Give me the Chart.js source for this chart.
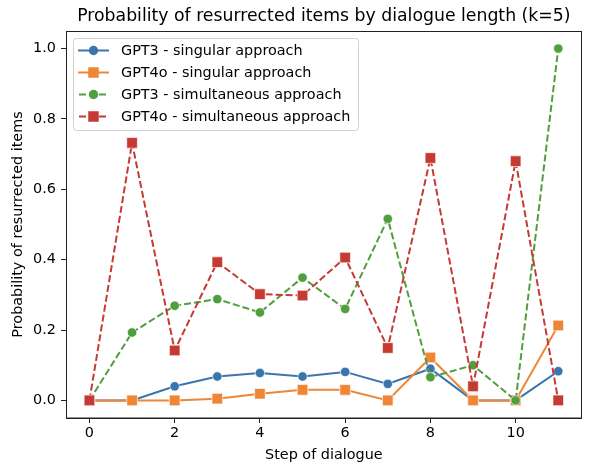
<!DOCTYPE html>
<html>
<head>
<meta charset="utf-8">
<script src="https://cdn.jsdelivr.net/npm/chart.js@4"></script>
<style>
    html, body { margin: 0; padding: 0; background: #fff; }
    #wrap { width: 590px; height: 466px; }
</style>
</head>
<body>
<div id="wrap"><canvas id="resChart" width="590" height="466"></canvas></div>
<script>
// Steps of dialogue (x axis)
const steps = [0, 1, 2, 3, 4, 5, 6, 7, 8, 9, 10, 11];

// Series values
const gpt3Singular = [0, 0, 0.04, 0.068, 0.078, 0.068, 0.081, 0.047, 0.09, 0, 0, 0.083];
const gpt4oSingular = [0, 0, 0, 0.005, 0.019, 0.03, 0.03, 0, 0.122, 0, 0, 0.213];
const gpt3Simultaneous = [0, 0.193, 0.269, 0.288, 0.25, 0.349, 0.26, 0.516, 0.066, 0.1, 0, 1.0];
const gpt4oSimultaneous = [0, 0.732, 0.142, 0.393, 0.302, 0.298, 0.406, 0.149, 0.689, 0.04, 0.68, 0];

const seriesLabels = [
    'GPT3 - singular approach',
    'GPT4o - singular approach',
    'GPT3 - simultaneous approach',
    'GPT4o - simultaneous approach'
];

// Tick labels
const xTicks = [0, 2, 4, 6, 8, 10];
const yTicks = [0.0, 0.2, 0.4, 0.6, 0.8, 1.0];

const FONT = '"DejaVu Sans", sans-serif';
const colors = ['#3b75af', '#ef8636', '#519e3e', '#c53a32'];

function toPoints(values) {
    return steps.map((s, i) => ({ x: s, y: values[i] }));
}

function makeDataset(idx, values, dashed, style) {
    return {
        label: seriesLabels[idx],
        data: toPoints(values),
        borderColor: colors[idx],
        backgroundColor: colors[idx],
        borderWidth: 2,
        borderDash: dashed ? [7, 3] : [],
        pointStyle: style,
        pointRadius: style === 'rect' ? 7.5 : 4.7,
        pointBorderColor: 'rgba(255,255,255,0.8)',
        pointBorderWidth: 0.8,
        pointBackgroundColor: colors[idx],
        pointHoverRadius: style === 'rect' ? 7.5 : 4.7,
        tension: 0,
        fill: false,
        order: 4 - idx
    };
}

const datasets = [
    makeDataset(0, gpt3Singular, false, 'circle'),
    makeDataset(1, gpt4oSingular, false, 'rect'),
    makeDataset(2, gpt3Simultaneous, true, 'circle'),
    makeDataset(3, gpt4oSimultaneous, true, 'rect')
];

// Draws the frame, title, axis labels and matplotlib-like legend
const decorations = {
    id: 'decorations',
    afterDraw(chart) {
        const ctx = chart.ctx;
        const a = chart.chartArea;
        ctx.save();

        // full box around the plot
        ctx.strokeStyle = '#222';
        ctx.lineWidth = 1;
        ctx.strokeRect(Math.round(a.left) + 0.5, Math.round(a.top) + 0.5,
            Math.round(a.right - a.left) - 1, Math.round(a.bottom - a.top) - 0.5);

        // title
        ctx.fillStyle = '#000';
        ctx.font = '17.3px ' + FONT;
        ctx.textAlign = 'center';
        ctx.textBaseline = 'middle';
        ctx.fillText('Probability of resurrected items by dialogue length (k=5)', (a.left + a.right) / 2, 16.5);

        // axis labels
        ctx.font = '14.4px ' + FONT;
        ctx.fillText('Step of dialogue', (a.left + a.right) / 2, 455.5);
        ctx.save();
        ctx.translate(18.5, (a.top + a.bottom) / 2);
        ctx.rotate(-Math.PI / 2);
        ctx.fillText('Probability of resurrected items', 0, 0);
        ctx.restore();

        // legend
        const lx = 73.5, ly = 38.5, lw = 285, lh = 92;
        ctx.fillStyle = 'rgba(255,255,255,0.8)';
        ctx.strokeStyle = '#d0d0d0';
        ctx.lineWidth = 1;
        ctx.beginPath();
        ctx.roundRect(lx, ly, lw, lh, 3);
        ctx.fill();
        ctx.stroke();

        const rowY = [50.5, 72.5, 94.5, 116.5];
        chart.data.datasets.forEach((ds, i) => {
            const y = rowY[i];
            ctx.strokeStyle = ds.borderColor;
            ctx.lineWidth = 2;
            ctx.setLineDash(ds.borderDash.length ? [7, 3] : []);
            ctx.beginPath();
            if (ds.borderDash.length) {
                ctx.moveTo(79, y);
                ctx.lineTo(109, y);
            } else {
                ctx.moveTo(78, y);
                ctx.lineTo(109, y);
            }
            ctx.stroke();
            ctx.setLineDash([]);
            ctx.fillStyle = ds.borderColor;
            if (ds.pointStyle === 'rect') {
                ctx.fillRect(88.25, y - 5.25, 10.5, 10.5);
            } else {
                ctx.beginPath();
                ctx.arc(93.5, y, 4.7, 0, Math.PI * 2);
                ctx.fill();
            }
            ctx.fillStyle = '#000';
            ctx.font = '14.4px ' + FONT;
            ctx.textAlign = 'left';
            ctx.textBaseline = 'middle';
            ctx.fillText(ds.label, 121, y + 0.5);
        });

        ctx.restore();
    }
};

const ctx = document.getElementById('resChart').getContext('2d');
new Chart(ctx, {
    type: 'line',
    data: { datasets: datasets },
    options: {
        responsive: false,
        animation: false,
        devicePixelRatio: 1,
        layout: { padding: { top: 31, right: 4, left: 0, bottom: 0 } },
        scales: {
            x: {
                type: 'linear',
                min: -0.55,
                max: 11.55,
                afterBuildTicks: (scale) => { scale.ticks = xTicks.map(v => ({ value: v })); },
                afterFit: (scale) => { scale.height = 48; },
                grid: { drawOnChartArea: false, drawTicks: true, tickLength: 5, tickColor: '#222', tickWidth: 1 },
                border: { display: true, color: '#222', width: 1 },
                ticks: {
                    color: '#000',
                    font: { family: FONT, size: 14.4 },
                    padding: 2,
                    maxRotation: 0,
                    callback: (v) => String(v)
                }
            },
            y: {
                type: 'linear',
                min: -0.05,
                max: 1.05,
                afterBuildTicks: (scale) => { scale.ticks = yTicks.map(v => ({ value: v })); },
                afterFit: (scale) => { scale.width = 66; },
                grid: { drawOnChartArea: false, drawTicks: true, tickLength: 5, tickColor: '#222', tickWidth: 1 },
                border: { display: true, color: '#222', width: 1 },
                ticks: {
                    color: '#000',
                    font: { family: FONT, size: 14.4 },
                    padding: 5,
                    callback: (v) => Number(v).toFixed(1)
                }
            }
        },
        plugins: {
            legend: { display: false },
            title: { display: false },
            tooltip: { enabled: false }
        }
    },
    plugins: [decorations]
});
</script>
</body>
</html>
